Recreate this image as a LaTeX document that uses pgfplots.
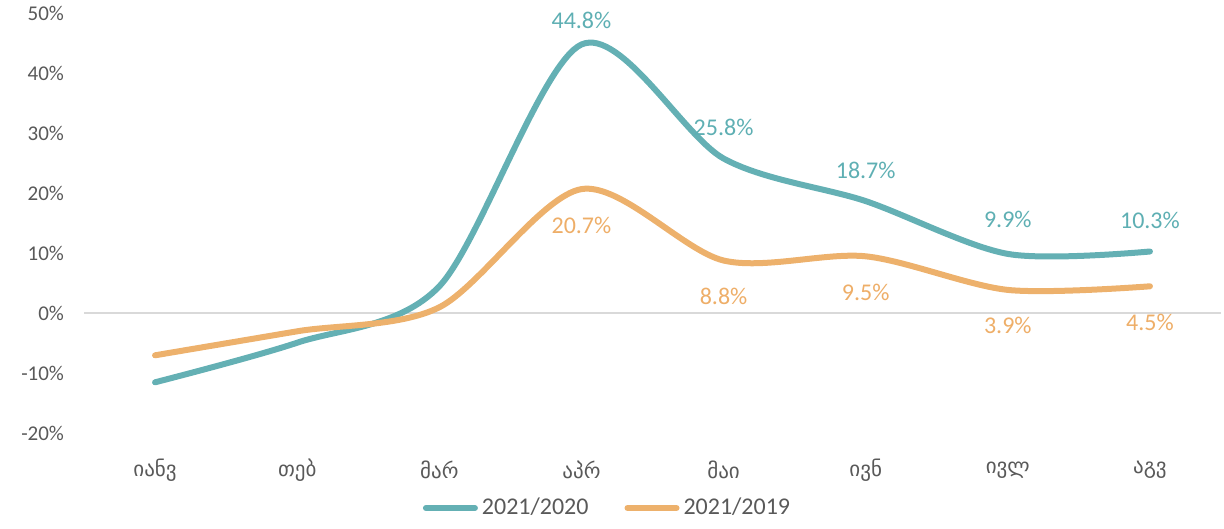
\documentclass[border=0pt]{standalone}
\usepackage{fontspec}
\setmainfont{Carlito}
\newfontfamily\geo{DejaVu Sans}
\usepackage{pgfplots}
\usepackage{pgfplotstable}
\pgfplotsset{compat=1.18}
\definecolor{teal1}{HTML}{64B0B4}
\definecolor{orng}{HTML}{EDB16C}
\definecolor{tealtxt}{HTML}{5EAFB3}
\definecolor{orngtxt}{HTML}{EEAE68}
\definecolor{txtgray}{HTML}{595959}
\definecolor{zgray}{HTML}{D9D9D9}

\pgfplotstableread{
x a b
0 -11.5 -7.0
1 -4.9 -3.0
2 4.5 1.0
3 44.8 20.7
4 25.8 8.8
5 18.7 9.5
6 9.9 3.9
7 10.3 4.5
}\data

\pgfplotstableread{
x y off
3 44.8 12.2
4 25.8 15.7
5 18.7 15.5
6 9.9 17
7 10.3 15.7
}\tlab

\pgfplotstableread{
x y off
3 20.7 -18
4 8.8 -18
5 9.5 -18
6 3.9 -18
7 4.5 -18
}\olab

\begin{document}
\begin{tikzpicture}
\path[use as bounding box] (0,0) rectangle (612pt,264.5pt);
\begin{axis}[
 at={(42pt,47.85pt)}, anchor=south west,
 scale only axis, width=568.5pt, height=210pt,
 xmin=-0.5, xmax=7.5, ymin=-20, ymax=50,
 axis line style={draw=none},
 major tick length=0pt,
 xtick={0,...,7},
 xticklabels={იანვ,თებ,მარ,აპრ,მაი,ივნ,ივლ,აგვ},
 xticklabel style={font=\geo\fontsize{10.5}{12}\selectfont, text=txtgray, anchor=center, yshift=-18.3pt},
 ytick={-20,-10,...,50},
 yticklabel={\pgfmathprintnumber{\tick}\%},
 yticklabel style={font=\fontsize{10.5}{12}\selectfont, text=txtgray, anchor=east, inner sep=0pt, xshift=-9.8pt},
 /pgf/number format/assume math mode=true,
 extra y ticks={0}, extra y tick labels={},
 extra y tick style={ymajorgrids=true, major grid style={zgray, line width=1pt}},
 clip=false,
 legend columns=2,
 legend style={at={(axis description cs:0.4613,-0.1779)}, anchor=center, draw=none, fill=none,
   font=\fontsize{12}{14}\selectfont, text=txtgray,
   /tikz/every even column/.append style={column sep=16pt}},
 legend cell align=left,
 legend image code/.code={\draw[#1, line width=3pt, line cap=round] (0pt,0pt) -- (24.5pt,0pt);},
]
\addplot[teal1, line width=3pt, smooth, tension=0.5, line cap=round] table[x=x,y=a]{\data};
\addlegendentry{2021/2020}
\addplot[orng, line width=3pt, smooth, tension=0.5, line cap=round] table[x=x,y=b]{\data};
\addlegendentry{2021/2019}
\addplot[draw=none, forget plot,
  nodes near coords={\pgfmathprintnumber[fixed,fixed zerofill,precision=1]{\pgfplotspointmeta}\%},
  visualization depends on={\thisrow{off}\as\off},
  every node near coord/.append style={anchor=center, yshift=\off pt, text=tealtxt, font=\fontsize{12}{14}\selectfont}]
  table[x=x,y=y]{\tlab};
\addplot[draw=none, forget plot,
  nodes near coords={\pgfmathprintnumber[fixed,fixed zerofill,precision=1]{\pgfplotspointmeta}\%},
  visualization depends on={\thisrow{off}\as\off},
  every node near coord/.append style={anchor=center, yshift=\off pt, text=orngtxt, font=\fontsize{12}{14}\selectfont}]
  table[x=x,y=y]{\olab};
\end{axis}
\end{tikzpicture}
\end{document}
